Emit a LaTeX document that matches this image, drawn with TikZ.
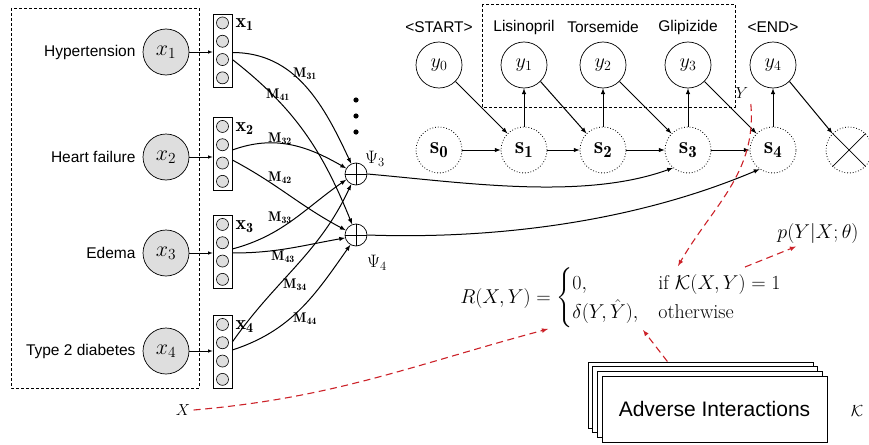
\RequirePackage{fix-cm}
\documentclass[tikz,border=0pt]{standalone}
\usepackage{amsmath,amssymb}
\usepackage{fontspec}
\newfontfamily\helv{Liberation Sans}
\usetikzlibrary{arrows,calc,positioning}
\definecolor{nodegray}{gray}{0.87}
\definecolor{linkred}{RGB}{204,34,41}

\begin{document}
\begin{tikzpicture}[x=1pt,y=-1pt,
	inp/.style={circle,draw,line width=0.7pt,fill=nodegray,minimum size=46pt,inner sep=0pt,font=\fontsize{22}{24}\selectfont},
	word/.style={font=\helv\fontsize{15.5}{18}\selectfont,inner sep=2pt},
	vec/.style={rectangle,draw,line width=0.7pt,minimum width=19pt,minimum height=73pt,inner sep=0pt},
	unit/.style={circle,draw,line width=0.6pt,fill=nodegray,minimum size=12pt,inner sep=0pt},
	sumnode/.style={circle,draw,line width=0.7pt,minimum size=22pt,inner sep=0pt},
	hid/.style={circle,draw,dotted,line width=0.8pt,minimum size=46pt,inner sep=0pt,font=\fontsize{24}{26}\selectfont},
	outp/.style={circle,draw,line width=0.7pt,minimum size=46pt,inner sep=0pt,font=\fontsize{20}{24}\selectfont},
	link/.style={-latex,line width=1pt},
	mlab/.style={font=\fontsize{14}{16}\selectfont,inner sep=0pt},
	rlink/.style={-latex,draw=linkred,line width=1.1pt,dash pattern=on 7pt off 4.5pt},
	advbox/.style={draw,fill=white,line width=0.8pt,minimum width=225pt,minimum height=66pt,inner sep=0pt}]
\useasboundingbox (0,0) rectangle (869,444);
%
\draw[densely dashed,line width=0.6pt] (11,8) rectangle (199,388);
\draw[densely dashed,line width=0.6pt] (482,4) rectangle (735,107);
%
\foreach \i/\name/\yy/\vy in {1/Hypertension/52/50.5, 2/Heart failure/157/154, 3/Edema/253/252, 4/Type 2 diabetes/351/352}{
	\node[inp] (x\i) at (166,\yy) {$x_{\i}$};
	\node[word, left=5pt of x\i] (lab\i) {\name};
	\node[vec] (v\i) at (222.5,\vy) {};
	\foreach \k in {1,...,4}
		\node[unit] (v\i-\k) at ($(v\i.north)+(0,9.3+18.3*\k-18.3)$) {};
	\node[font=\fontsize{20}{22}\selectfont,anchor=west,inner sep=2pt] (vl\i) at ($(v\i.north east)+(1,11)$) {$\mathbf{x_{\i}}$};
	\draw[-latex,line width=0.6pt] (x\i.east) -- (x\i.east -| v\i.west);
}
%
\node[sumnode] (p3) at (356,174) {};
\node[sumnode] (p4) at (356,235) {};
\foreach \p in {p3,p4}
	\draw[line width=0.6pt] (\p.north) -- (\p.south) (\p.west) -- (\p.east);
\node[font=\fontsize{18}{20}\selectfont] (psi3) at (375,159) {$\Psi_3$};
\node[font=\fontsize{18}{20}\selectfont] (psi4) at (377,263) {$\Psi_4$};
\foreach \d in {100,116,132}
	\fill (356,\d) circle (2.6);
%
\draw[link] ($(v1.east)+(0,2)$) to[out=0,in=115] (p3.115);
\draw[link] ($(v1.east)+(0,9)$) to[out=-38,in=112] (p4.110);
\draw[link] ($(v2.east)+(0,-4)$) to[out=20,in=150] (p3.150);
\draw[link] ($(v2.east)+(0,6)$) to[out=-28,in=152] (p4.155);
\draw[link] ($(v3.east)+(0,-3)$) to[out=15,in=215] (p3.210);
\draw[link] ($(v3.east)+(0,1)$) to[out=0,in=190] (p4.195);
\draw[link] ($(v4.east)+(0,-10)$) to[out=55,in=245] (p3.245);
\draw[link] ($(v4.east)+(0,-2)$) to[out=18,in=235] (p4.240);
\node[mlab] (m31) at (305,74) {$\mathbf{M_{31}}$};
\node[mlab] (m41) at (278,95) {$\mathbf{M_{41}}$};
\node[mlab] (m32) at (280,139) {$\mathbf{M_{32}}$};
\node[mlab] (m42) at (280,178) {$\mathbf{M_{42}}$};
\node[mlab] (m33) at (280,218) {$\mathbf{M_{33}}$};
\node[mlab] (m43) at (283,257) {$\mathbf{M_{43}}$};
\node[mlab] (m34) at (295,285) {$\mathbf{M_{34}}$};
\node[mlab] (m44) at (305,319) {$\mathbf{M_{44}}$};
%
\foreach \i/\sx/\name in {0/439/<START>, 1/524/Lisinopril, 2/603/Torsemide, 3/688/Glipizide, 4/773/<END>}{
	\node[hid] (s\i) at (\sx,150) {$\mathbf{s_{\i}}$};
	\node[outp] (y\i) at (\sx,65) {$y_{\i}$};
	\node[word] (w\i) at (\sx,27) {\name};
}
\node[hid] (xend) at (849,150) {};
\draw[line width=0.7pt] (xend.north west) -- (xend.south east) (xend.north east) -- (xend.south west);
\foreach \i/\j in {0/1,1/2,2/3,3/4}{
	\draw[link] (s\i) -- (s\j);
	\draw[link] (y\i.south east) -- (s\j.north west);
	\draw[link] (s\j) -- (y\j);
}
\draw[link] (y4.south east) -- (xend.north west);
%
\draw[link] (p3.east) to[out=-5,in=200,looseness=0.8] (s3.230);
\draw[link] (p4.east) to[out=-2,in=203,looseness=0.85] (s4.235);
%
\node[font=\fontsize{16}{18}\selectfont] (Xlab) at (183,410) {$X$};
\node[font=\fontsize{16}{18}\selectfont] (Ylab) at (742,93) {$Y$};
\node[font=\fontsize{20}{24}\selectfont] (rew) at (621,298)
	{$R(X,Y)=\begin{cases}0, & \text{if } \mathcal{K}(X,Y)=1\\ \delta(Y,\hat{Y}), & \text{otherwise}\end{cases}$};
\node[font=\fontsize{20}{24}\selectfont] (plab) at (818,233) {$p(Y|X;\theta)$};
\node[font=\fontsize{16}{18}\selectfont] (klab) at (857,411) {$\mathcal{K}$};
%
\foreach \k in {3,2,1}
	\node[advbox] (adv\k) at (714.5-4.7*\k,409-4.7*\k) {};
\node[advbox,font=\helv\fontsize{21}{24}\selectfont] (adv) at (714.5,409) {Adverse Interactions};
%
\coordinate (rin) at (548,329);
\coordinate (rtop) at (678,266);
\coordinate (ptail) at (745,267);
\coordinate (rbot) at (643,330);
\draw[rlink] (Xlab.east) to[out=5,in=195] (rin);
\draw[rlink] ($(Ylab.south east)+(-1,2)$) to[out=-85,in=60] (rtop);
\draw[rlink] (ptail) -- ($(plab.south)+(-22,0)$);
\draw[rlink] ($(adv3.north)+(-33,0)$) -- (rbot);
\end{tikzpicture}
\end{document}
